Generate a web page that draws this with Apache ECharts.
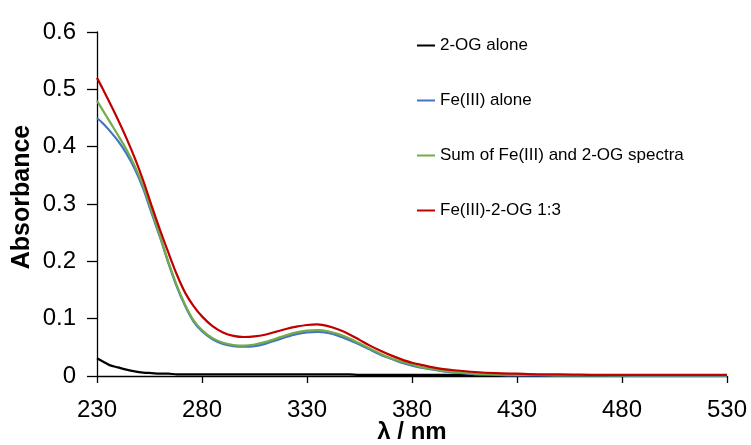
<!DOCTYPE html>
<html>
<head>
<meta charset="utf-8">
<script src="https://cdn.jsdelivr.net/npm/echarts@6/dist/echarts.min.js"></script>
<style>
  html, body { margin: 0; padding: 0; background: #fff; }
  #chart { width: 751px; height: 445px; }
</style>
</head>
<body>
<div id="chart"></div>
<script>
// wavelengths in nm
var wavelengths = [230, 233, 236, 240, 244, 248, 252, 256, 260, 264, 268, 272, 276, 280, 285, 290, 295, 300,
  305, 310, 315, 320, 325, 330, 335, 340, 345, 350, 355, 360, 365, 370, 375, 380, 385, 390, 395, 400,
  410, 420, 430, 440, 450, 470, 490, 510, 530]

var ogAlone = [0.031, 0.025, 0.019, 0.015, 0.011, 0.008, 0.006, 0.005, 0.004, 0.004, 0.003, 0.003, 0.003, 0.003, 0.003, 0.003, 0.003, 0.003,
  0.003, 0.003, 0.003, 0.003, 0.003, 0.003, 0.003, 0.003, 0.003, 0.003, 0.002, 0.002, 0.002, 0.002, 0.002, 0.002, 0.002, 0.002, 0.002, 0.002,
  0.001, 0.001, 0.001, 0.001, 0.001, 0.001, 0.001, 0.001, 0.001]

var feAlone = [0.450, 0.440, 0.428, 0.410, 0.388, 0.361, 0.327, 0.284, 0.242, 0.197, 0.156, 0.122, 0.095, 0.078, 0.064, 0.056, 0.052, 0.051,
  0.052, 0.056, 0.062, 0.068, 0.073, 0.076, 0.077, 0.075, 0.070, 0.063, 0.055, 0.046, 0.037, 0.030, 0.023, 0.018, 0.014, 0.011, 0.008, 0.006,
  0.003, 0.002, 0.001, 0.001, 0.001, 0.001, 0.000, 0.000, 0.000]

var sumSpectra = [0.480, 0.462, 0.444, 0.420, 0.395, 0.366, 0.331, 0.288, 0.244, 0.199, 0.158, 0.124, 0.097, 0.080, 0.066, 0.058, 0.054, 0.053,
  0.055, 0.059, 0.065, 0.071, 0.076, 0.079, 0.080, 0.078, 0.073, 0.066, 0.057, 0.048, 0.039, 0.031, 0.025, 0.020, 0.015, 0.012, 0.009, 0.007,
  0.004, 0.003, 0.002, 0.002, 0.001, 0.001, 0.001, 0.001, 0.001]

var feOg13 = [0.520, 0.499, 0.477, 0.447, 0.415, 0.380, 0.341, 0.297, 0.255, 0.215, 0.177, 0.145, 0.122, 0.104, 0.087, 0.076, 0.070, 0.068,
  0.069, 0.072, 0.077, 0.082, 0.086, 0.089, 0.090, 0.087, 0.081, 0.073, 0.063, 0.053, 0.044, 0.036, 0.029, 0.023, 0.019, 0.015, 0.012, 0.010,
  0.007, 0.005, 0.004, 0.003, 0.003, 0.002, 0.002, 0.002, 0.002]

var seriesNames = ['2-OG alone', 'Fe(III) alone', 'Sum of Fe(III) and 2-OG spectra', 'Fe(III)-2-OG 1:3']
var seriesColors = ['#000000', '#4472C4', '#70AD47', '#C00000']
var seriesData = [ogAlone, feAlone, sumSpectra, feOg13]

var font = 'Liberation Sans, Arial, sans-serif'

function pairs (vals) {
  var out = []
  for (var i = 0; i < wavelengths.length; i++) {
    out.push([wavelengths[i], vals[i]])
  }
  return out
}

var series = []
for (var i = 0; i < seriesNames.length; i++) {
  series.push({
    name: seriesNames[i],
    type: 'line',
    data: pairs(seriesData[i]),
    smooth: 0.3,
    showSymbol: false,
    lineStyle: { color: seriesColors[i], width: 2.2 },
    itemStyle: { color: seriesColors[i] },
    emphasis: { disabled: true },
    z: 2 + i
  })
}

var chart = echarts.init(document.getElementById('chart'))
chart.setOption({
  animation: false,
  grid: { left: 97, right: 24, top: 32, bottom: 69, outerBoundsMode: 'none' },
  legend: {
    orient: 'vertical',
    left: 412,
    top: 32,
    icon: 'rect',
    itemWidth: 18,
    itemHeight: 2,
    itemGap: 38,
    textStyle: { color: '#000', fontSize: 17, fontFamily: font },
    data: seriesNames
  },
  xAxis: {
    type: 'value',
    min: 230,
    max: 530,
    interval: 50,
    name: 'λ / nm',
    nameLocation: 'middle',
    nameGap: 44,
    nameMoveOverlap: false,
    nameTextStyle: { color: '#000', fontSize: 24, fontWeight: 'bold', fontFamily: font },
    axisLine: { lineStyle: { color: '#000', width: 1.3 } },
    axisTick: { show: true, length: 7, lineStyle: { color: '#000', width: 1.3 } },
    axisLabel: { color: '#000', fontSize: 24, fontFamily: font, margin: 22 },
    splitLine: { show: false }
  },
  yAxis: {
    type: 'value',
    min: 0,
    max: 0.6,
    interval: 0.1,
    name: 'Absorbance',
    nameLocation: 'middle',
    nameGap: 62,
    nameMoveOverlap: false,
    nameTextStyle: { color: '#000', fontSize: 25, fontWeight: 'bold', fontFamily: font, padding: [0, 0, 0, 14] },
    axisLine: { show: true, lineStyle: { color: '#000', width: 1.3 } },
    axisTick: { show: true, length: 10, lineStyle: { color: '#000', width: 1.3 } },
    axisLabel: { color: '#000', fontSize: 24, fontFamily: font, margin: 21 },
    splitLine: { show: false }
  },
  series: series
})
</script>
</body>
</html>
